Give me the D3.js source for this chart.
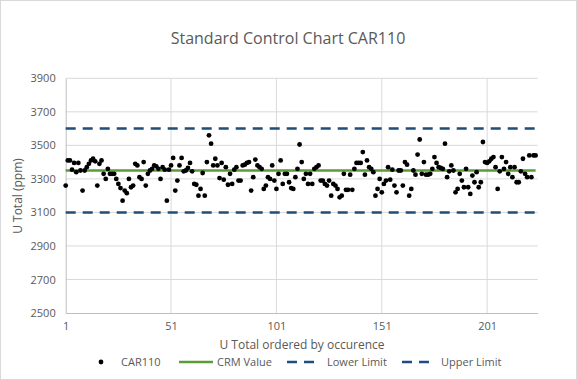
<!DOCTYPE html>
<html>
<head>
<meta charset="utf-8">
<script src="https://cdn.jsdelivr.net/npm/d3@7"></script>
<style>
  body { margin: 0; background: #fff; }
  text { font-family: "Open Sans", sans-serif; fill: #595959; }
</style>
</head>
<body>
<div id="chart"></div>
<script>
// values, in order of occurence
var car110 = [
  3260, 3410, 3410, 3355, 3395, 3340, 3395, 3350, 3230, 3350,
  3370, 3390, 3410, 3420, 3405, 3260, 3390, 3410, 3330, 3300,
  3360, 3330, 3330, 3330, 3300, 3270, 3245, 3170, 3230, 3215,
  3300, 3250, 3260, 3390, 3380, 3310, 3300, 3400, 3260, 3330,
  3350, 3360, 3380, 3375, 3360, 3300, 3370, 3355, 3170, 3355,
  3380, 3425, 3230, 3290, 3380, 3425, 3345, 3350, 3365, 3395,
  3345, 3270, 3265, 3200, 3240, 3335, 3200, 3400, 3560, 3510,
  3380, 3420, 3380, 3305, 3395, 3295, 3370, 3265, 3330, 3270,
  3355, 3370, 3290, 3290, 3380, 3385, 3395, 3400, 3230, 3310,
  3415, 3380, 3370, 3360, 3240, 3260, 3310, 3300, 3380, 3290,
  3240, 3330, 3410, 3270, 3330, 3330, 3280, 3245, 3240, 3310,
  3360, 3505, 3400, 3300, 3330, 3270, 3330, 3270, 3360, 3370,
  3380, 3290, 3290, 3270, 3260, 3290, 3200, 3270, 3260, 3240,
  3190, 3200, 3330, 3235, 3235, 3325, 3235, 3360, 3395, 3395,
  3395, 3460, 3325, 3410, 3370, 3360, 3340, 3200, 3240, 3300,
  3220, 3270, 3290, 3370, 3295, 3355, 3260, 3220, 3350, 3350,
  3260, 3400, 3385, 3200, 3240, 3350, 3325, 3445, 3535, 3330,
  3400, 3325, 3325, 3330, 3360, 3430, 3395, 3370, 3365, 3360,
  3510, 3310, 3345, 3380, 3350, 3220, 3240, 3330, 3290, 3250,
  3360, 3250, 3210, 3320, 3280, 3340, 3250, 3280, 3520, 3400,
  3395, 3405, 3420, 3430, 3370, 3240, 3345, 3430, 3360, 3400,
  3330, 3370, 3310, 3370, 3280, 3280, 3345, 3420, 3330, 3310,
  3440, 3310, 3440, 3440
];
var crmValue = 3350;
var lowerLimit = 3100;
var upperLimit = 3600;
var yTicks = [2500, 2700, 2900, 3100, 3300, 3500, 3700, 3900];
var xTicks = [1, 51, 101, 151, 201];
var legendNames = ["CAR110", "CRM Value", "Lower Limit", "Upper Limit"];

var width = 577, height = 380;
var plotLeft = 65.7, plotRight = 537.7, plotTop = 78.3, plotBottom = 313;

var svg = d3.select("#chart").append("svg")
    .attr("width", width)
    .attr("height", height);

svg.append("rect")
    .attr("x", 0.5).attr("y", 0.5)
    .attr("width", width - 1).attr("height", height - 1)
    .attr("fill", "#fff").attr("stroke", "#d9d9d9");

var x = d3.scaleLinear().domain([1, 225]).range([plotLeft, plotRight]);
var y = d3.scaleLinear().domain([2500, 3900]).range([plotBottom, plotTop]);

// gridlines
svg.append("g")
    .selectAll("line")
    .data(yTicks.slice(1))
    .enter().append("line")
    .attr("x1", plotLeft).attr("x2", plotRight)
    .attr("y1", d => y(d)).attr("y2", d => y(d))
    .attr("stroke", "#d9d9d9").attr("stroke-width", 1);

svg.append("g")
    .selectAll("line")
    .data(xTicks.slice(1))
    .enter().append("line")
    .attr("x1", d => x(d)).attr("x2", d => x(d))
    .attr("y1", plotTop).attr("y2", plotBottom)
    .attr("stroke", "#d9d9d9").attr("stroke-width", 1);

// axes
var yAxis = d3.axisLeft(y).tickValues(yTicks).tickFormat(d3.format("d")).tickSize(0).tickPadding(10);
var gy = svg.append("g").attr("transform", "translate(" + plotLeft + ",0)").call(yAxis);
gy.select(".domain").attr("stroke", "#bfbfbf");
gy.selectAll("text").style("font-size", "11px").attr("fill", "#595959");

var xAxis = d3.axisBottom(x).tickValues(xTicks).tickFormat(d3.format("d")).tickSize(0).tickPadding(9);
var gx = svg.append("g").attr("transform", "translate(0," + plotBottom + ")").call(xAxis);
gx.select(".domain").attr("stroke", "#bfbfbf");
gx.selectAll("text").style("font-size", "11px").attr("fill", "#595959");

var first = 1, last = car110.length;

function hline(v, color, dash) {
    svg.append("line")
        .attr("x1", x(first)).attr("x2", x(last))
        .attr("y1", y(v)).attr("y2", y(v))
        .attr("stroke", color).attr("stroke-width", 2.5)
        .attr("stroke-dasharray", dash);
}
hline(upperLimit, "#1f4e79", "10,7");
hline(lowerLimit, "#1f4e79", "10,7");
hline(crmValue, "#5b9b38", null);

svg.append("g")
    .selectAll("circle")
    .data(car110)
    .enter().append("circle")
    .attr("cx", (d, i) => x(i + 1))
    .attr("cy", d => y(d))
    .attr("r", 2.4)
    .attr("fill", "#000");

// titles
svg.append("text")
    .attr("x", 288).attr("y", 44)
    .attr("text-anchor", "middle")
    .style("font-size", "16px")
    .text("Standard Control Chart CAR110");

svg.append("text")
    .attr("transform", "translate(22,196) rotate(-90)")
    .attr("text-anchor", "middle")
    .style("font-size", "12px")
    .text("U Total (ppm)");

svg.append("text")
    .attr("x", 302).attr("y", 349)
    .attr("text-anchor", "middle")
    .style("font-size", "12px")
    .text("U Total ordered by occurence");

// legend
var ly = 362;
var lg = svg.append("g");
lg.append("circle").attr("cx", 101).attr("cy", ly).attr("r", 2.4).attr("fill", "#000");
lg.append("line").attr("x1", 179).attr("x2", 213).attr("y1", ly).attr("y2", ly)
    .attr("stroke", "#5b9b38").attr("stroke-width", 2.5);
lg.append("line").attr("x1", 287).attr("x2", 317).attr("y1", ly).attr("y2", ly)
    .attr("stroke", "#1f4e79").attr("stroke-width", 2.5).attr("stroke-dasharray", "10,7");
lg.append("line").attr("x1", 402).attr("x2", 432).attr("y1", ly).attr("y2", ly)
    .attr("stroke", "#1f4e79").attr("stroke-width", 2.5).attr("stroke-dasharray", "10,7");
var lx = [121, 217, 327, 441];
lg.selectAll("text.leg")
    .data(legendNames)
    .enter().append("text")
    .attr("class", "leg")
    .attr("x", (d, i) => lx[i]).attr("y", ly + 4)
    .style("font-size", "11px")
    .text(d => d);
</script>
</body>
</html>
